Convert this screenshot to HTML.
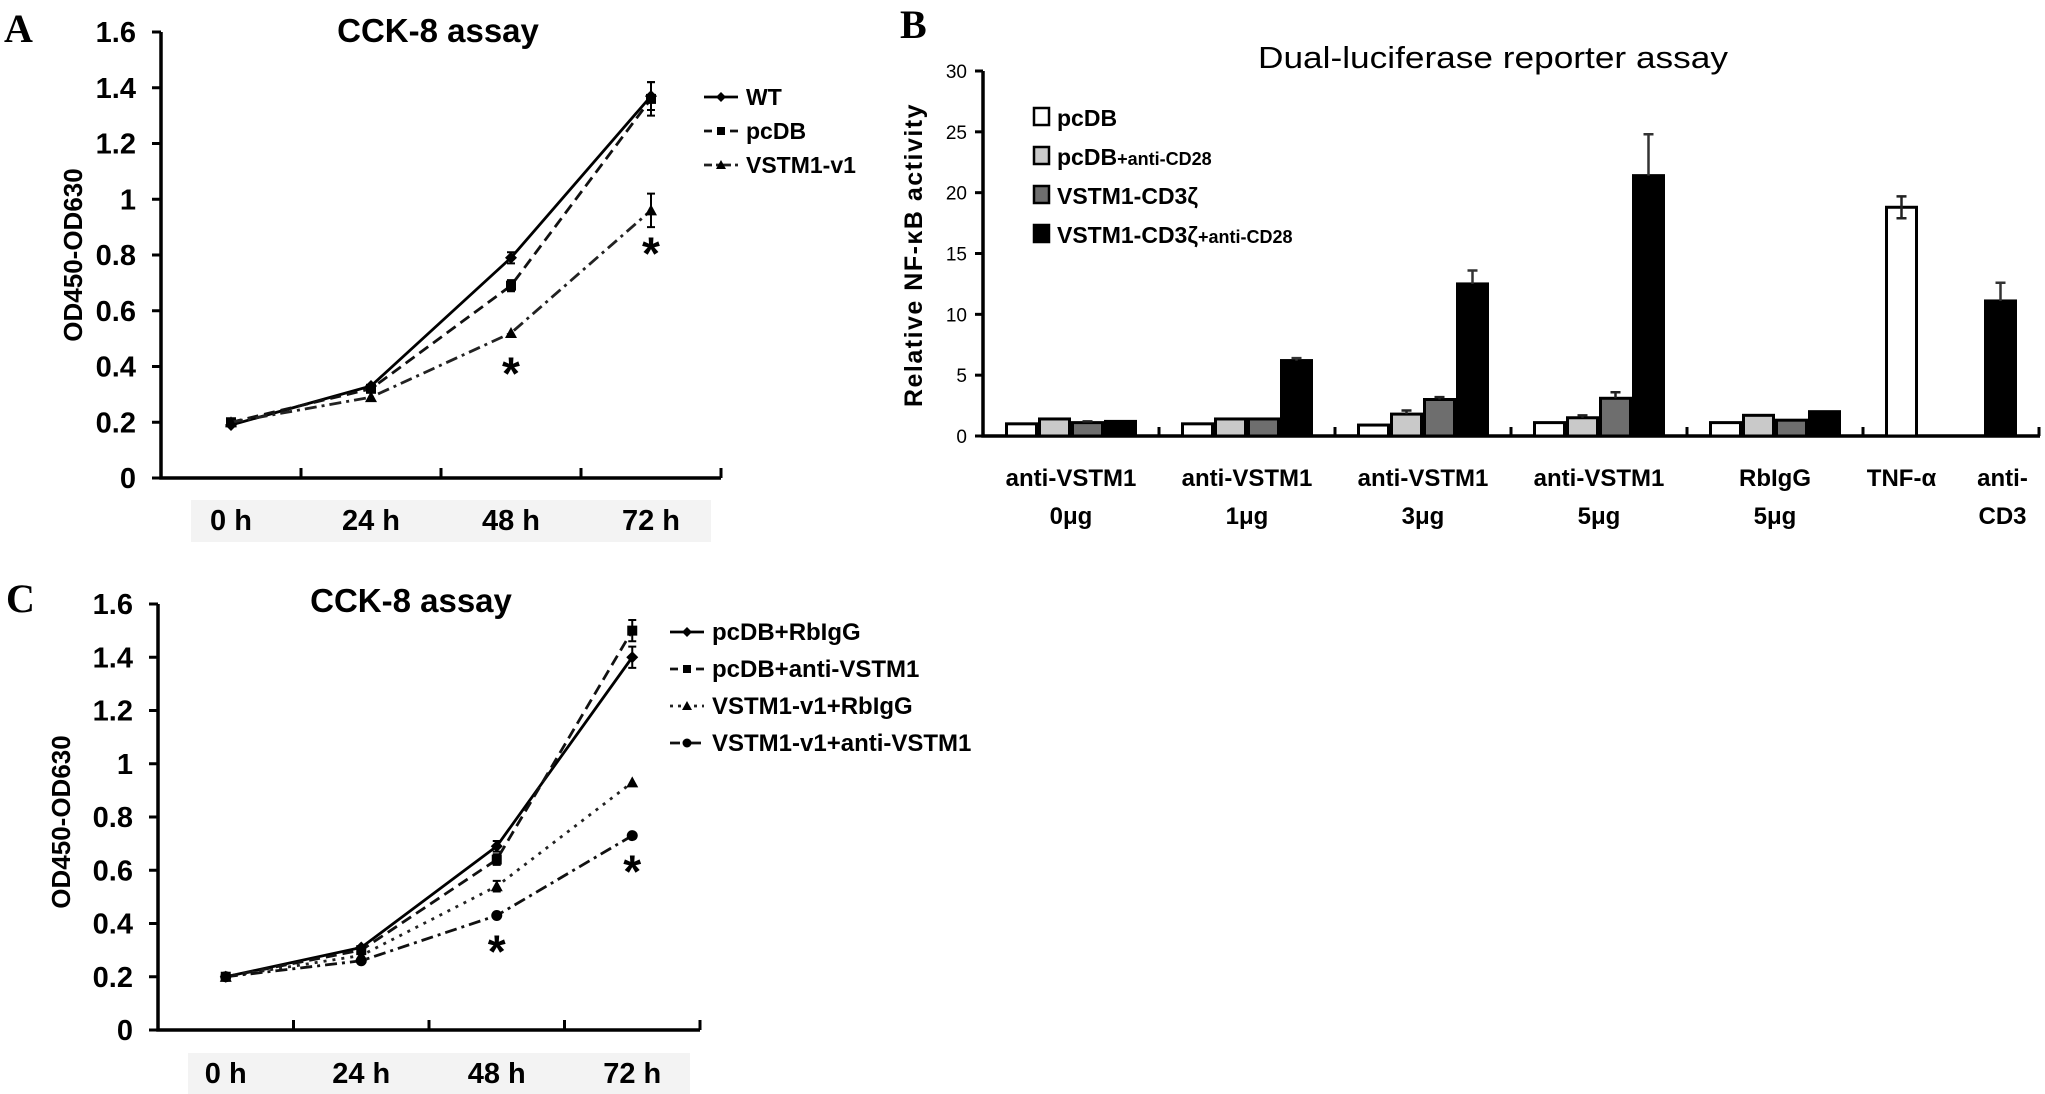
<!DOCTYPE html>
<html><head><meta charset="utf-8"><style>
html,body{margin:0;padding:0;background:#fff;}
svg{display:block;font-family:"Liberation Sans",sans-serif;}
</style></head><body>
<svg id="fig" width="2045" height="1094" viewBox="0 0 2045 1094" xmlns="http://www.w3.org/2000/svg">
<rect width="2045" height="1094" fill="#fff"/>
<text x="4" y="42" font-family="Liberation Serif,serif" font-weight="bold" font-size="40">A</text>
<text x="900" y="38" font-family="Liberation Serif,serif" font-weight="bold" font-size="40">B</text>
<text x="6" y="612" font-family="Liberation Serif,serif" font-weight="bold" font-size="40">C</text>
<g id="pa"></g>
<g id="pb"></g>
<g id="pc"></g>
</svg>
<script>
// ---- Panel A data ----
const aCategories = ["0 h","24 h","48 h","72 h"];
const aSeriesNames = ["WT","pcDB","VSTM1-v1"];
const aWT = [0.19,0.33,0.79,1.37];
const aPcDB = [0.20,0.32,0.69,1.36];
const aV1 = [0.20,0.29,0.52,0.96];
const aErrWT = [0.01,0.01,0.02,0.05];
const aErrPcDB = [0.01,0.01,0.02,0.06];
const aErrV1 = [0.01,0.01,0.01,0.06];
const aStars = [[2,0.39],[3,0.82]];
const yTicksLine = ["0","0.2","0.4","0.6","0.8","1","1.2","1.4","1.6"];
// ---- Panel C data ----
const cCategories = ["0 h","24 h","48 h","72 h"];
const cSeriesNames = ["pcDB+RbIgG","pcDB+anti-VSTM1","VSTM1-v1+RbIgG","VSTM1-v1+anti-VSTM1"];
const cS1 = [0.20,0.31,0.69,1.40];
const cS2 = [0.20,0.30,0.64,1.50];
const cS3 = [0.20,0.28,0.54,0.93];
const cS4 = [0.20,0.26,0.43,0.73];
const cErr1 = [0.01,0.01,0.02,0.04];
const cErr2 = [0.01,0.01,0.02,0.04];
const cErr3 = [0.01,0.01,0.02,0.01];
const cErr4 = [0.01,0.01,0.01,0.01];
const cStars = [[2,0.31],[3,0.61]];
// ---- Panel B data ----
const bGroups = ["anti-VSTM1|0μg","anti-VSTM1|1μg","anti-VSTM1|3μg","anti-VSTM1|5μg","RbIgG|5μg","TNF-α|"];
const bSeriesNames = ["pcDB","pcDB+anti-CD28","VSTM1-CD3ζ","VSTM1-CD3ζ+anti-CD28"];
const bPcDB = [1.0,1.0,0.9,1.1,1.1,18.8];
const bPcDBCD28 = [1.4,1.4,1.8,1.5,1.7,null];
const bCD3z = [1.1,1.4,3.0,3.1,1.3,null];
const bCD3zCD28 = [1.2,6.2,12.5,21.4,2.0,11.1];
const bErrPcDB = [0,0,0,0,0,0.9];
const bErrPcDBCD28 = [0,0,0.3,0.2,0,0];
const bErrCD3z = [0.1,0,0.2,0.5,0,0];
const bErrCD3zCD28 = [0,0.2,1.1,3.4,0,1.5];
const bYTicks = ["0","5","10","15","20","25","30"];

const NS="http://www.w3.org/2000/svg";
function mk(tag, attrs, parent){const e=document.createElementNS(NS,tag);for(const k in attrs)e.setAttribute(k,attrs[k]);parent.appendChild(e);return e;}

function lineChart(g, cfg, cats, names, series, errs, styles, stars){
  const step=(cfg.xEnd-cfg.x0)/cats.length;
  const X=i=>cfg.x0+(i+0.5)*step;
  const Y=v=>cfg.yZero-(v/1.6)*(cfg.yZero-cfg.yTop);
  // axes
  let ax=mk('path',{d:`M${cfg.x0} ${cfg.yTop} V${cfg.yZero} H${cfg.xEnd}`,stroke:'#000','stroke-width':3.5,fill:'none'},g);
  
  
  yTicksLine.forEach((t,i)=>{
    const v=i*0.2, y=Y(v);
    mk('line',{x1:cfg.x0-9,x2:cfg.x0,y1:y,y2:y,stroke:'#000','stroke-width':3},g);
    const tx=mk('text',{x:cfg.x0-25,y:y+10,'text-anchor':'end','font-size':29,'font-weight':'bold'},g);
    tx.textContent=t;
    
    
  });
  mk('rect',{x:cfg.x0+30,y:cfg.labY-30,width:cfg.xEnd-cfg.x0-40,height:42,fill:'#f3f3f3'},g);
  cats.forEach((c,i)=>{
    if(i>0) mk('line',{x1:cfg.x0+i*step,x2:cfg.x0+i*step,y1:cfg.yZero,y2:cfg.yZero-10,stroke:'#000','stroke-width':3},g);
    const tx=mk('text',{x:X(i),y:cfg.labY,'text-anchor':'middle','font-size':29,'font-weight':'bold'},g);
    tx.textContent=c;
    
    
  });
  mk('line',{x1:cfg.xEnd,x2:cfg.xEnd,y1:cfg.yZero,y2:cfg.yZero-10,stroke:'#000','stroke-width':3},g);
  const title=mk('text',{x:cfg.titleX,y:cfg.titleY,'text-anchor':'middle','font-size':33,'font-weight':'bold'},g);
  title.textContent='CCK-8 assay';
  
  
  const yl=mk('text',{x:0,y:0,'text-anchor':'middle','font-size':26,'font-weight':'bold',transform:`translate(${cfg.ylX},${cfg.ylY}) rotate(-90)`},g);
  yl.textContent='OD450-OD630';
  
  
  series.forEach((s,k)=>{
    const st=styles[k];
    const pl=mk('polyline',{points:s.map((v,i)=>X(i)+','+Y(v)).join(' '),fill:'none',stroke:st.color,'stroke-width':2.8,'stroke-dasharray':st.dash},g);
    
    
    s.forEach((v,i)=>{
      const x=X(i),y=Y(v),e=errs[k][i];
      if(e>0.015){
        mk('path',{d:`M${x} ${Y(v+e)} V${Y(v-e)} M${x-4} ${Y(v+e)} H${x+4} M${x-4} ${Y(v-e)} H${x+4}`,stroke:'#000','stroke-width':2,fill:'none'},g);
      }
      const m=marker(g,st.marker,x,y,6);
      
      
    });
    // legend
    const ly=cfg.legY+k*cfg.legDy;
    mk('line',{x1:cfg.legX,x2:cfg.legX+34,y1:ly,y2:ly,stroke:st.color,'stroke-width':2.8,'stroke-dasharray':st.legDash},g);
    marker(g,st.marker,cfg.legX+17,ly,5);
    const lt=mk('text',{x:cfg.legX+42,y:ly+8,'font-size':cfg.legFont,'font-weight':'bold'},g);
    lt.textContent=names[k];
    
    
  });
  stars.forEach(sp=>{
    const t=mk('text',{x:X(sp[0]),y:Y(sp[1])+20,'text-anchor':'middle','font-size':46,'font-weight':'bold'},g);
    t.textContent='*';
    
    
  });
}
function marker(g,type,x,y,r){
  if(type==='diamond') return mk('path',{d:`M${x} ${y-r} L${x+r} ${y} L${x} ${y+r} L${x-r} ${y}Z`,fill:'#000'},g);
  if(type==='square') return mk('rect',{x:x-r+1,y:y-r+1,width:2*r-2,height:2*r-2,fill:'#000'},g);
  if(type==='triangle') return mk('path',{d:`M${x} ${y-r} L${x+r} ${y+r-1} L${x-r} ${y+r-1}Z`,fill:'#000'},g);
  return mk('circle',{cx:x,cy:y,r:r-0.5,fill:'#000'},g);
}

lineChart(document.getElementById('pa'),
  {x0:161,xEnd:721,yZero:478,yTop:32,labY:530,titleX:438,titleY:42,ylX:82,ylY:255,legX:704,legY:97,legDy:34,legFont:23},
  aCategories,aSeriesNames,[aWT,aPcDB,aV1],[aErrWT,aErrPcDB,aErrV1],
  [{color:'#000',dash:'none',legDash:'none',marker:'diamond'},
   {color:'#111',dash:'11 6',legDash:'8 5',marker:'square'},
   {color:'#222',dash:'12 5 3 5',legDash:'8 4 3 4',marker:'triangle'}],aStars);

lineChart(document.getElementById('pc'),
  {x0:158,xEnd:700,yZero:1030,yTop:604,labY:1083,titleX:411,titleY:612,ylX:70,ylY:822,legX:670,legY:632,legDy:37,legFont:24},
  cCategories,cSeriesNames,[cS1,cS2,cS3,cS4],[cErr1,cErr2,cErr3,cErr4],
  [{color:'#000',dash:'none',legDash:'none',marker:'diamond'},
   {color:'#111',dash:'11 6',legDash:'8 5',marker:'square'},
   {color:'#222',dash:'3 6',legDash:'3 5',marker:'triangle'},
   {color:'#111',dash:'12 5 3 5',legDash:'10 4 3 4',marker:'circle'}],cStars);

// ---- Panel B ----
(function(){
  const g=document.getElementById('pb');
  const x0=983, xEnd=2040, yZero=436, yTop=71, gw=176, bw=33;
  const Y=v=>yZero-v/30*(yZero-yTop);
  const ax=mk('path',{d:`M${x0} ${yTop} V${yZero} H${xEnd}`,stroke:'#000','stroke-width':3.5,fill:'none'},g);
  
  
  bYTicks.forEach((t,i)=>{
    const y=Y(i*5);
    mk('line',{x1:x0-8,x2:x0,y1:y,y2:y,stroke:'#000','stroke-width':3},g);
    const tx=mk('text',{x:x0-16,y:y+7,'text-anchor':'end','font-size':19},g);
    tx.textContent=t;
    
    
  });
  const t=mk('text',{x:1493,y:68,'text-anchor':'middle','font-size':31,textLength:470,lengthAdjust:'spacingAndGlyphs'},g);
  t.textContent='Dual-luciferase reporter assay';
  
  
  const yl=mk('text',{x:0,y:0,'text-anchor':'middle','font-size':25,'font-weight':'bold','letter-spacing':1.5,transform:'translate(922,255) rotate(-90)'},g);
  yl.textContent='Relative NF-κB activity';
  
  
  const fills=['#fff','#c9c9c9','#6e6e6e','#000'];
  const series=[bPcDB,bPcDBCD28,bCD3z,bCD3zCD28];
  const errs=[bErrPcDB,bErrPcDBCD28,bErrCD3z,bErrCD3zCD28];
  bGroups.forEach((lab,gi)=>{
    const gx=x0+gi*gw;
    mk('line',{x1:gx+gw,x2:gx+gw,y1:yZero,y2:yZero-9,stroke:'#000','stroke-width':3},g);
    series.forEach((s,k)=>{
      const v=s[gi]; if(v==null) return;
      const bx=gx+22+k*bw;
      const r=mk('rect',{x:bx+1.5,y:Y(v),width:bw-3,height:yZero-Y(v),fill:fills[k],stroke:'#000','stroke-width':3},g);
      
      
      const e=errs[k][gi];
      if(e>0){
        const cx=bx+bw/2;
        mk('path',{d:`M${cx} ${Y(v)} V${Y(v+e)} M${cx-5} ${Y(v+e)} H${cx+5}`+(k===0?` M${cx} ${Y(v)} V${Y(v-e)} M${cx-5} ${Y(v-e)} H${cx+5}`:''),stroke:k===3?'#333':'#222','stroke-width':2.5,fill:'none'},g);
      }
    });
  });
  // category labels
  const labs=bGroups.map(s=>s.split('|'));
  labs.forEach((p,gi)=>{
    let cx=x0+gi*gw+gw/2;
    if(gi===5){ cx=x0+gi*gw+22+bw/2; }
    const a=mk('text',{x:cx,y:486,'text-anchor':'middle','font-size':24,'font-weight':'bold'},g);
    a.textContent=p[0];
    
    
    if(p[1]){
      const b=mk('text',{x:cx,y:524,'text-anchor':'middle','font-size':24,'font-weight':'bold'},g);
      b.textContent=p[1];
      
      
    }
  });
  const cxl=x0+5*gw+22+3*bw+bw/2;
  const l1=mk('text',{x:cxl+2,y:486,'text-anchor':'middle','font-size':24,'font-weight':'bold'},g);
  l1.textContent='anti-';
  
  
  const l2=mk('text',{x:cxl+2,y:524,'text-anchor':'middle','font-size':24,'font-weight':'bold'},g);
  l2.textContent='CD3';
  
  
  // legend
  bSeriesNames.forEach((n,k)=>{
    const ly=117+k*39;
    mk('rect',{x:1034,y:ly-9,width:15,height:17,fill:fills[k],stroke:'#000','stroke-width':2.5},g);
    const tx=mk('text',{x:1057,y:ly+9,'font-size':23,'font-weight':'bold'},g);
    if(n.indexOf('+')>=0){
      const parts=n.split('+');
      tx.textContent=parts[0];
      const sp=mk('tspan',{'font-size':18},tx);
      sp.textContent='+'+parts[1];
    } else tx.textContent=n;
    
    
  });
})();
</script>
</body></html>
